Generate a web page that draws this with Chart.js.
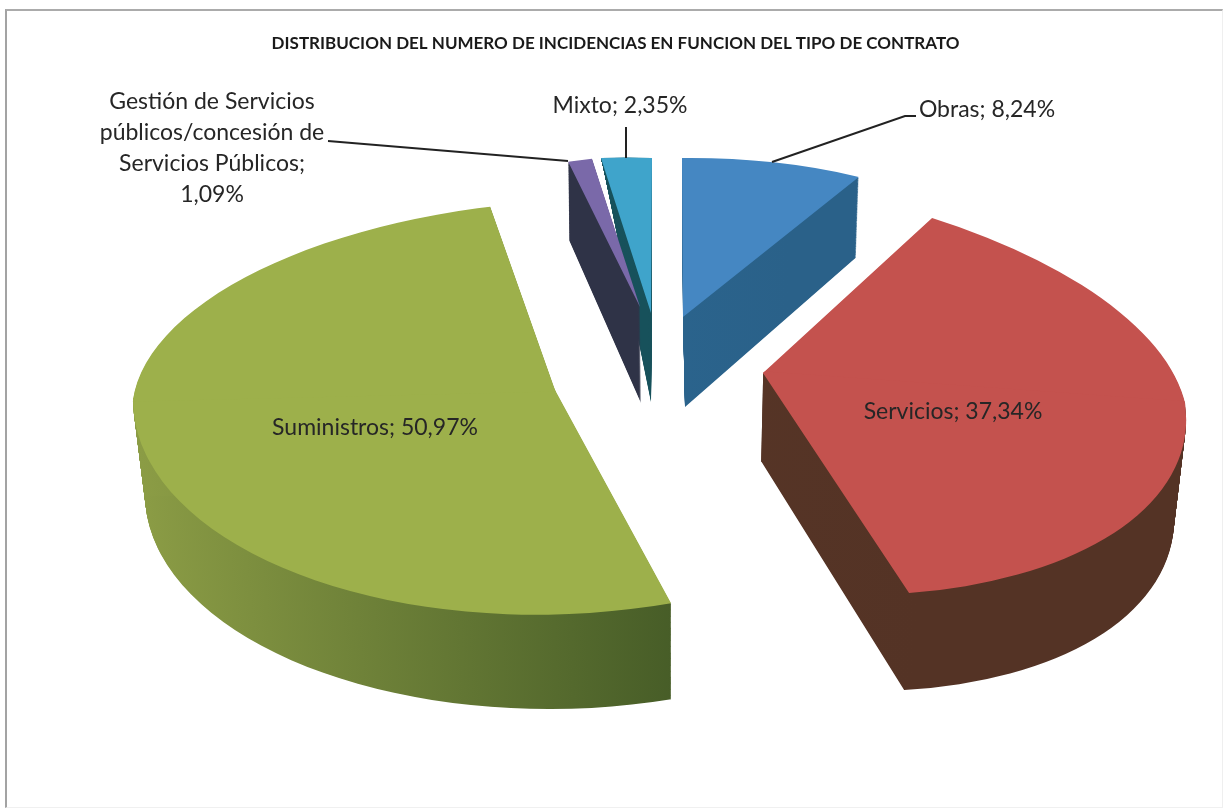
<!DOCTYPE html>
<html><head><meta charset="utf-8">
<style>
html,body{margin:0;padding:0;background:#fff;width:1223px;height:808px;overflow:hidden}
#frame{position:absolute;left:5px;top:9px;width:1215px;height:796px;border-left:2px solid #a3a3a3;border-top:2px solid #ababab;border-right:1px solid #efefef;border-bottom:1px solid #f0f0f0}
canvas{position:absolute;left:0;top:0}
</style>
<script src="https://cdn.jsdelivr.net/npm/chart.js@4/dist/chart.umd.min.js"></script>
</head><body>
<div id="frame"></div>
<canvas id="c" width="1223" height="808"></canvas>
<script>
const categories = ["Obras","Servicios","Suministros","Gestión de Servicios públicos/concesión de Servicios Públicos","Mixto"];
const percentages = [8.24,37.34,50.97,1.09,2.35];
const titleText = "DISTRIBUCION DEL NUMERO DE INCIDENCIAS EN FUNCION DEL TIPO DE CONTRATO";
const topColors = ["#4587c2","#c4524e","#9db04b","#7a69a9","#3fa4cb"];
const wallColors = [["#2c6a96","#2a6189"],["#5a3829","#543325"],["#8b9c45","#465c27"],["#2f3347","#2f3347"],["#17545e","#17505a"]];

// Exploded 3-D look with perspective: each slice's unit circle is mapped on to the page,
// for its top face and its base, by one or two views split at a canvas angle (radians).
const sliceViews = [
  {parts:[{from:-Math.PI,to:Math.PI,top:[683,317,357,1,-3.7,159],base:[685,407,349,2,0,172]}]},
  {parts:[
    {from:-Math.PI,to:0,top:[763,373,422,45.8,30,195.4],base:[761,461,412,45,40,200]},
    {from:0,to:Math.PI,top:[763,373,422,31.7,30,220.3],base:[761,461,412,31.5,40,226.8]}]},
  {parts:[
    {from:0,to:Math.PI,top:[555,390,422,0.5,-10,224.5],base:[557,490,412,1.3,-5,219]},
    {from:Math.PI,to:2*Math.PI,top:[555,390,422,-26.3,-10,189.9],base:[557,490,412,-26,-5,200]}]},
  {parts:[{from:-Math.PI,to:Math.PI,top:[640,307,353,-4,-15,152],base:[641,403,353,-4,-15,170]}]},
  {parts:[{from:-Math.PI,to:Math.PI,top:[651,313,347,-1,11.6,155],base:[651,402,330,-1,11.6,235]}]}
];
const drawOrder = [0,4,3,1,2];

const pieLabels = [
  {lines:["Obras; 8,24%"],x:987,y:110},
  {lines:["Servicios; 37,34%"],x:953,y:412},
  {lines:["Suministros; 50,97%"],x:375,y:428},
  {lines:["Gestión de Servicios","públicos/concesión de","Servicios Públicos;","1,09%"],x:212,y:102,gap:31},
  {lines:["Mixto; 2,35%"],x:620,y:106}
];
const leaders = [
  [[916,116],[905,116],[772,162]],
  [[626,127],[626,158]],
  [[328,141],[568,161]]
];

const lerp=(p,q,t)=>p.map((v,i)=>v+(q[i]-v)*t);
function withView(ctx,arc,v,part,fn){
  const r=arc.outerRadius,k=1/r,cx=arc.x,cy=arc.y,[tx,ty,a,b,c,d]=v;
  ctx.save();
  ctx.transform(a*k,c*k,b*k,d*k,tx-(a*cx+b*cy)*k,ty-(c*cx+d*cy)*k);
  if(part.to-part.from<2*Math.PI-0.001){
    // keep only this part's sector; the apex sits a little behind the centre so parts overlap without a seam
    const mid=(part.from+part.to)/2,R=r*3,n=16,back=3;
    ctx.beginPath();ctx.moveTo(cx-back*Math.cos(mid),cy-back*Math.sin(mid));
    const fx=-back*Math.cos(mid),fy=-back*Math.sin(mid);
    for(let j=0;j<=n;j++){const th=part.from+(part.to-part.from)*j/n;ctx.lineTo(cx+fx+R*Math.cos(th),cy+fy+R*Math.sin(th));}
    ctx.closePath();ctx.clip();
  }
  fn();
  ctx.restore();
}
function paint(ctx,arc,fill){
  const o=arc.options;
  arc.options=Object.create(o,{backgroundColor:{value:fill},borderWidth:{value:0}});
  arc.draw(ctx);
  arc.options=o;
}
const pie3d={
  id:'pie3d',
  beforeDatasetsDraw(chart){
    const ctx=chart.ctx,arcs=chart.getDatasetMeta(0).data;
    drawOrder.forEach(i=>{
      const arc=arcs[i],parts=sliceViews[i].parts,r=arc.outerRadius;
      const g=ctx.createLinearGradient(arc.x-r,0,arc.x+r*0.3,0);
      g.addColorStop(0,wallColors[i][0]);g.addColorStop(1,wallColors[i][1]);
      parts.forEach(part=>{
        const steps=Math.ceil(part.base[1]-part.top[1]);
        for(let s=steps;s>0;s--){
          withView(ctx,arc,lerp(part.top,part.base,s/steps),part,()=>paint(ctx,arc,g));
        }
      });
      parts.forEach(part=>withView(ctx,arc,part.top,part,()=>paint(ctx,arc,topColors[i])));
    });
    return false;
  },
  afterDraw(chart){
    const ctx=chart.ctx;
    ctx.save();
    ctx.strokeStyle="#222";ctx.lineWidth=2;
    leaders.forEach(l=>{ctx.beginPath();l.forEach((p,i)=>i?ctx.lineTo(p[0],p[1]):ctx.moveTo(p[0],p[1]));ctx.stroke();});
    ctx.fillStyle="#262626";ctx.font="23px Lato";ctx.textAlign="center";ctx.textBaseline="middle";
    pieLabels.forEach(l=>l.lines.forEach((t,i)=>ctx.fillText(t,l.x,l.y+i*(l.gap||0))));
    ctx.restore();
  }
};
new Chart(document.getElementById('c'),{
  type:'pie',
  data:{labels:categories,datasets:[{data:percentages,backgroundColor:topColors,borderWidth:0}]},
  options:{
    responsive:false,animation:false,
    layout:{padding:{top:33,bottom:10,left:8}},
    plugins:{
      legend:{display:false},tooltip:{enabled:false},
      title:{display:true,text:titleText,color:"#1a1a1a",font:{family:"Lato",size:17,weight:"bold"},padding:{top:0,bottom:0}}
    }
  },
  plugins:[pie3d]
});
</script>
</body></html>
